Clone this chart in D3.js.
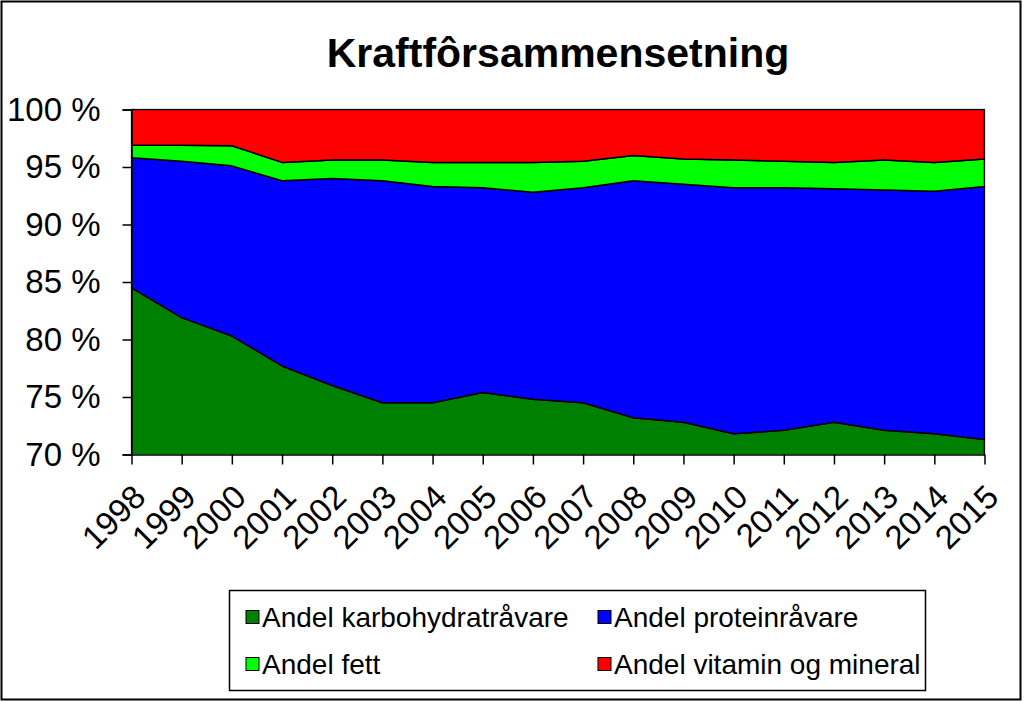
<!DOCTYPE html>
<html>

<head>
    <meta charset="utf-8">
    <script src="https://d3js.org/d3.v7.min.js"></script>
    <style>
        body {
            margin: 0;
            background-color: #ffffff;
        }

        #chart-svg .font {
            font-family: Arial, "Liberation Sans", sans-serif;
        }

        #chart-svg .title {
            font-size: 41px;
            font-weight: bold;
            fill: #000000;
        }

        #chart-svg .tick-label {
            font-size: 33px;
            fill: #000000;
        }

        #chart-svg .legend-label {
            font-size: 28px;
            fill: #000000;
        }

        #chart-svg .area {
            stroke: #000000;
            stroke-width: 1.5;
            stroke-linejoin: round;
        }
    </style>
</head>

<body>

    <script>

        const SVG_WIDTH = 1024;
        const SVG_HEIGHT = 702;
        const PLOT_LEFT = 131.5;
        const PLOT_RIGHT = 984.5;
        const PLOT_TOP = 109.5;
        const PLOT_BOTTOM = 454.5;
        const TITLE_TXT = "Kraftfôrsammensetning";

        // years on the x axis
        const YEARS = ["1998", "1999", "2000", "2001", "2002", "2003", "2004", "2005", "2006",
            "2007", "2008", "2009", "2010", "2011", "2012", "2013", "2014", "2015"];

        // shares in percent
        const KARBO = [84.5, 81.9, 80.3, 77.7, 76.0, 74.5, 74.5, 75.4, 74.8,
            74.5, 73.2, 72.8, 71.8, 72.1, 72.8, 72.1, 71.8, 71.3];
        const PROTEIN = [11.3, 13.6, 14.8, 16.1, 18.0, 19.3, 18.8, 17.8, 18.0,
            18.7, 20.6, 20.7, 21.4, 21.1, 20.3, 20.9, 21.1, 22.0];
        const FETT = [1.1, 1.4, 1.75, 1.6, 1.6, 1.8, 2.1, 2.2, 2.6,
            2.3, 2.2, 2.2, 2.4, 2.3, 2.3, 2.6, 2.5, 2.4];
        const VITAMIN = [3.1, 3.1, 3.15, 4.6, 4.4, 4.4, 4.6, 4.6, 4.6,
            4.5, 4.0, 4.3, 4.4, 4.5, 4.6, 4.4, 4.6, 4.3];

        const SERIES_KEYS = ["karbo", "protein", "fett", "vitamin"];
        const SERIES_NAMES = ["Andel karbohydratråvare", "Andel proteinråvare",
            "Andel fett", "Andel vitamin og mineral"];
        const SERIES_COLORS = ["#008000", "#0000ff", "#00ff00", "#ff0000"];

        const Y_TICKS = [70, 75, 80, 85, 90, 95, 100];

        var table = YEARS.map(function(year, i) {
            return {
                year: year,
                karbo: KARBO[i],
                protein: PROTEIN[i],
                fett: FETT[i],
                vitamin: VITAMIN[i]
            };
        });

        var stacked = d3.stack().keys(SERIES_KEYS)(table);

        var svg = d3.select("body").append("svg")
            .attr("width", SVG_WIDTH)
            .attr("height", SVG_HEIGHT)
            .attr("id", "chart-svg");

        // outer frame
        svg.append("rect")
            .attr("x", 1.5)
            .attr("y", 1.5)
            .attr("width", 1019)
            .attr("height", 698)
            .attr("fill", "#ffffff")
            .attr("stroke", "#000000")
            .attr("stroke-width", 2);

        var xScale = d3.scalePoint()
            .domain(YEARS)
            .range([PLOT_LEFT, PLOT_RIGHT]);

        var yScale = d3.scaleLinear()
            .domain([70, 100])
            .range([PLOT_BOTTOM, PLOT_TOP]);

        svg.append("text")
            .attr("x", (PLOT_LEFT + PLOT_RIGHT) / 2)
            .attr("y", 67)
            .attr("text-anchor", "middle")
            .text(TITLE_TXT)
            .classed("title font", true);

        svg.append("clipPath")
            .attr("id", "plot-clip")
            .append("rect")
            .attr("x", PLOT_LEFT - 1)
            .attr("y", PLOT_TOP - 1)
            .attr("width", PLOT_RIGHT - PLOT_LEFT + 2)
            .attr("height", PLOT_BOTTOM - PLOT_TOP + 1);

        var area = d3.area()
            .x(function(d) {
                return xScale(d.data.year);
            })
            .y0(function(d) {
                return yScale(d[0]);
            })
            .y1(function(d) {
                return yScale(d[1]);
            });

        svg.append("g")
            .attr("clip-path", "url(#plot-clip)")
            .selectAll("path")
            .data(stacked)
            .enter()
            .append("path")
            .attr("d", area)
            .attr("fill", function(d, i) {
                return SERIES_COLORS[i];
            })
            .classed("area", true);

        // y axis
        var yAxis = svg.append("g")
            .attr("transform", "translate(" + PLOT_LEFT + ",0)")
            .call(d3.axisLeft(yScale)
                .tickValues(Y_TICKS)
                .tickSize(9)
                .tickPadding(22)
                .tickFormat(function(d) {
                    return d + " %";
                }));
        yAxis.select(".domain").attr("stroke", "#000000").attr("stroke-width", 1.5);
        yAxis.selectAll(".tick line").attr("stroke", "#000000").attr("stroke-width", 1.5);
        yAxis.selectAll(".tick text")
            .attr("class", "tick-label font")
            .attr("font-family", null)
            .attr("font-size", null);

        // x axis
        var xAxis = svg.append("g")
            .attr("transform", "translate(0," + PLOT_BOTTOM + ")")
            .call(d3.axisBottom(xScale)
                .tickSize(10)
                .tickSizeOuter(0));
        xAxis.select(".domain").attr("stroke", "#000000").attr("stroke-width", 1.5);
        xAxis.selectAll(".tick line").attr("stroke", "#000000").attr("stroke-width", 1.5);
        xAxis.selectAll(".tick text")
            .attr("class", "tick-label font")
            .attr("font-family", null)
            .attr("font-size", null)
            .attr("text-anchor", "end")
            .attr("x", 0)
            .attr("y", 0)
            .attr("dy", "0.71em")
            .attr("transform", "translate(-1,28) rotate(-45)");

        // legend
        const LEGEND_X = 229.5;
        const LEGEND_Y = 590.5;
        svg.append("rect")
            .attr("x", LEGEND_X)
            .attr("y", LEGEND_Y)
            .attr("width", 696)
            .attr("height", 100)
            .attr("fill", "#ffffff")
            .attr("stroke", "#000000")
            .attr("stroke-width", 1.5);

        var legendPos = [[246, 617], [598, 617], [246, 664], [598, 664]];
        var legendItems = svg.selectAll("legendItem")
            .data(SERIES_NAMES)
            .enter()
            .append("g")
            .attr("transform", function(d, i) {
                return "translate(" + legendPos[i][0] + "," + legendPos[i][1] + ")";
            });
        legendItems.append("rect")
            .attr("x", 0)
            .attr("y", -6.5)
            .attr("width", 13)
            .attr("height", 13)
            .attr("fill", function(d, i) {
                return SERIES_COLORS[i];
            })
            .attr("stroke", "#000000")
            .attr("stroke-width", 1);
        legendItems.append("text")
            .attr("x", 16)
            .attr("y", 0)
            .attr("dy", "0.36em")
            .text(function(d) {
                return d;
            })
            .classed("legend-label font", true);

    </script>
</body>

</html>
